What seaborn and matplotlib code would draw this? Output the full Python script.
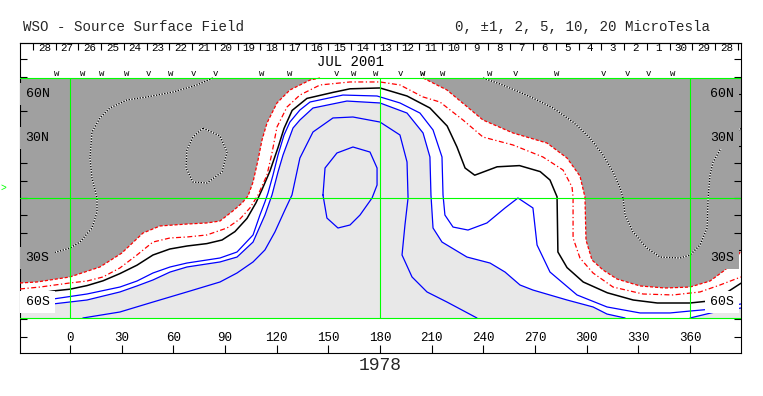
import numpy as np
import matplotlib.pyplot as plt
import seaborn as sns

# WSO source surface field, Carrington rotation 1978 (July 2001)
# all traces: Carrington longitude (deg) and sine latitude

# neutral line (0 microTesla)
neutral_lon = [-29, -9.9, 0, 9.9, 19.2, 29, 38.9, 48.2, 58, 68, 79.5, 88.3, 95.8, 102.8, 108, 111.5, 116,
               120.8, 124.3, 129, 137.6, 152.7, 162.6, 180, 195.7, 209, 219, 224.7, 229.4, 235, 248, 261,
               273, 278.7, 282.8, 283.3, 288.6, 298, 312, 327, 341, 360, 370, 381, 389.6]
neutral_sin = [-0.82, -0.775, -0.76, -0.73, -0.69, -0.63, -0.56, -0.475, -0.425, -0.40, -0.38, -0.35, -0.28,
               -0.17, -0.04, 0.07, 0.22, 0.42, 0.58, 0.73, 0.83, 0.88, 0.91, 0.917, 0.85, 0.75, 0.60, 0.425,
               0.25, 0.19, 0.26, 0.27, 0.22, 0.15, 0.01, -0.45, -0.58, -0.70, -0.79, -0.85, -0.875, -0.875,
               -0.86, -0.79, -0.71]

# negative contours (red)
neg1_lon = [-29, -17.4, 0, 9.9, 19.2, 29, 38.9, 48.2, 58.1, 67.9, 79.5, 91.2, 98.7, 104.5, 109.2, 114.4,
            117.3, 120.2, 126, 133.5, 145.2, 162.6, 180, 191.6, 205, 214.8, 228.2, 239.8, 257.2, 274.6,
            286.3, 291.5, 292.1, 292.1, 296.1, 303.7, 315.3, 332.7, 350.1, 365.8, 377.4, 389.6]
neg1_sin = [-0.758, -0.742, -0.708, -0.692, -0.658, -0.583, -0.475, -0.367, -0.333, -0.325, -0.308, -0.25,
            -0.175, -0.083, 0.025, 0.192, 0.375, 0.592, 0.758, 0.858, 0.942, 0.967, 0.967, 0.942, 0.842,
            0.80, 0.65, 0.508, 0.442, 0.342, 0.233, 0.092, 0.008, -0.333, -0.50, -0.625, -0.742, -0.80,
            -0.808, -0.783, -0.725, -0.658]

neg2a_lon = [-29, -19.2, 0, 17.4, 30, 42.4, 52.3, 67.9, 79.5, 87.1, 94.6, 99.9, 103.4, 106.3, 109.2,
             111.5, 114.4, 120.2, 127.7, 139.4, 145.2]
neg2a_sin = [-0.708, -0.70, -0.658, -0.575, -0.46, -0.292, -0.233, -0.217, -0.208, -0.192, -0.108, -0.042,
             0.017, 0.133, 0.317, 0.483, 0.625, 0.792, 0.90, 0.983, 1.0]
neg2b_lon = [205, 218.9, 239.8, 257.2, 277, 288.6, 296.1, 299, 299.6, 303.1, 309.5, 317.6, 331, 345.5,
             360, 371.6, 380.3, 385, 389.6]
neg2b_sin = [1.0, 0.90, 0.65, 0.542, 0.458, 0.333, 0.183, 0.008, -0.35, -0.517, -0.60, -0.675, -0.733,
             -0.75, -0.742, -0.692, -0.60, -0.533, -0.442]

# strong negative contours (dotted, inside the dark region)
neg5a_lon = [83, 73.7, 59.8, 44.7, 33.1, 23.2, 17.4, 12.8, 11.6, 12.8, 15.7, 15.7, 12.8, 5.8, 0, -9.9]
neg5a_sin = [1.0, 0.942, 0.883, 0.842, 0.817, 0.75, 0.667, 0.55, 0.333, 0.167, 0.0, -0.117, -0.25,
             -0.367, -0.417, -0.458]
neg5b_lon = [77.2, 87.1, 91.2, 88.3, 79.5, 71.4, 67.4, 67.9, 71.4, 77.2]
neg5b_sin = [0.583, 0.517, 0.383, 0.217, 0.125, 0.133, 0.25, 0.40, 0.508, 0.583]
neg5c_lon = [239.8, 249.7, 259.5, 268.8, 280.5, 292.1, 301.9, 309.5, 315.3, 319.4, 321.1, 322.3, 326.9,
             335, 342.6, 354.2, 360, 365.8, 369.9, 370.5, 371.6, 373.4, 377.4, 383.2, 389.6]
neg5c_sin = [1.0, 0.95, 0.892, 0.833, 0.75, 0.633, 0.50, 0.358, 0.217, 0.083, 0.0, -0.142, -0.283,
             -0.417, -0.492, -0.50, -0.475, -0.392, -0.25, 0.0, 0.192, 0.30, 0.40, 0.50, 0.583]

# positive contours (blue)
pos1_lon = [-29, -9.9, 9.9, 29, 38.9, 48.2, 58.1, 67.9, 87.1, 97, 106.3, 110.3, 113.2, 115, 117.9, 120.8,
            124.3, 127.7, 133.5, 139.4, 158.5, 178.3, 191.6, 203.2, 210.8, 216, 216.6, 217.7, 222.4,
            231.1, 242.1, 252.6, 260.1, 268.8, 271.2, 278.7, 294.4, 311.8, 331, 348.4, 360, 373.4, 389.6]
pos1_sin = [-0.858, -0.842, -0.80, -0.742, -0.692, -0.625, -0.575, -0.542, -0.50, -0.45, -0.308, -0.142,
            -0.033, 0.042, 0.192, 0.358, 0.525, 0.633, 0.733, 0.80, 0.858, 0.85, 0.792, 0.708, 0.567,
            0.342, 0.025, -0.142, -0.242, -0.267, -0.208, -0.083, 0.0, -0.083, -0.392, -0.617, -0.808,
            -0.908, -0.958, -0.958, -0.942, -0.925, -0.883]

pos2_lon = [-29, -9.9, 9.9, 29, 38.9, 48.2, 58.1, 67.9, 87.1, 97, 106.3, 113.2, 117.3, 120.8, 123.7,
            129.5, 133.5, 141.1, 160.8, 180, 195.7, 205, 209, 209.6, 210.8, 216, 230.5, 243.9, 252.6,
            261.3, 268.8, 288.6, 303.7, 311.8, 322.3]
pos2_sin = [-0.90, -0.883, -0.85, -0.783, -0.733, -0.683, -0.617, -0.575, -0.533, -0.492, -0.367, -0.142,
            0.025, 0.217, 0.358, 0.583, 0.65, 0.75, 0.808, 0.792, 0.708, 0.542, 0.342, 0.025, -0.25,
            -0.367, -0.492, -0.542, -0.617, -0.725, -0.767, -0.85, -0.908, -0.967, -1.0]
pos2_tail_lon = [360, 374.5, 389.6]
pos2_tail_sin = [-1.0, -0.95, -0.917]

pos5_lon = [7.5, 29, 48.2, 67.9, 87.1, 97, 106.3, 113.2, 119, 124.8, 128.9, 133.5, 141.1, 152.7, 164.3,
            180, 191.6, 195.7, 196.3, 194.5, 192.8, 198.6, 207.3, 218.9, 236.3]
pos5_sin = [-1.0, -0.95, -0.867, -0.783, -0.70, -0.625, -0.533, -0.433, -0.283, -0.10, 0.025, 0.333,
            0.55, 0.667, 0.675, 0.633, 0.525, 0.30, 0.0, -0.225, -0.475, -0.658, -0.783, -0.867, -1.0]

pos10_lon = [146.9, 148.1, 155, 164.3, 174.2, 178.3, 178.3, 175.4, 168.4, 162.6, 155.6, 149.2, 146.9]
pos10_sin = [0.025, 0.25, 0.375, 0.425, 0.383, 0.25, 0.108, 0.0, -0.142, -0.225, -0.25, -0.167, 0.025]

# markers along the top edge
mark_lon = [-7.5, 7.5, 18.6, 33.1, 45.3, 58.6, 71.4, 84.2, 111.5, 127.7, 154.5, 164.9, 177.7, 191.6,
            205.0, 216.6, 243.9, 258.4, 282.8, 309.5, 323.4, 335.6, 350.1]
mark_sym = list("wwwwvwvvwwvwwvWwwvwvvvw")

# dates of central meridian passage
day_labels = [28, 27, 26, 25, 24, 23, 22, 21, 20, 19, 18, 17, 16, 15, 14, 13, 12, 11, 10, 9, 8, 7, 6,
              5, 4, 3, 2, 1, 30, 29, 28]
first_day_lon = -21.5
deg_per_day = 13.2

lon_ticks = list(range(0, 361, 30))
lat_label_deg = [60, 30, -30, -60]
lat_label_txt = ["60N", "30N", "30S", "60S"]
earth_lat = 4.8
lon_min, lon_max = -29.0, 389.6

GRAY = "#a0a0a0"
LIGHT = "#e8e8e8"
GREEN = "#00ff00"
BLUE = "#0000ff"
RED = "#ff0000"

sns.set_theme(style="white")
plt.rcParams["font.family"] = ["Liberation Mono", "DejaVu Sans Mono"]
plt.rcParams["axes.edgecolor"] = "black"
plt.rcParams["axes.linewidth"] = 0.8

fig = plt.figure(figsize=(7.63, 3.96), dpi=100)
ax = fig.add_axes([20 / 763, 43 / 396, 721 / 763, 310 / 396])

# shading: dark = negative, white = weak positive, light = strong positive
ax.axhspan(-1, 1, color=GRAY, lw=0, zorder=0)
ax.fill(neg2a_lon + neg2b_lon + [lon_max, lon_min], neg2a_sin + neg2b_sin + [-1, -1],
        color="white", lw=0, zorder=1)
ax.fill(pos2_lon + [lon_min], pos2_sin + [-1], color=LIGHT, lw=0, zorder=2)
ax.fill(pos2_tail_lon + [lon_max], pos2_tail_sin + [-1], color=LIGHT, lw=0, zorder=2)

# contours
for lon, s in [(pos1_lon, pos1_sin), (pos2_lon, pos2_sin), (pos2_tail_lon, pos2_tail_sin),
               (pos5_lon, pos5_sin), (pos10_lon, pos10_sin)]:
    sns.lineplot(x=lon, y=s, sort=False, estimator=None, color=BLUE, lw=0.9, ax=ax, zorder=4)
sns.lineplot(x=neutral_lon, y=neutral_sin, sort=False, estimator=None, color="black", lw=1.1,
             ax=ax, zorder=4)
ax.plot(neg1_lon, neg1_sin, color=RED, lw=0.9, ls=(0, (4, 2, 1, 2)), zorder=4)
ax.plot(neg2a_lon, neg2a_sin, color=RED, lw=0.9, ls=(0, (2.5, 1.5)), zorder=4)
ax.plot(neg2b_lon, neg2b_sin, color=RED, lw=0.9, ls=(0, (2.5, 1.5)), zorder=4)
for lon, s in [(neg5a_lon, neg5a_sin), (neg5b_lon, neg5b_sin), (neg5c_lon, neg5c_sin)]:
    ax.plot(lon, s, color="white", lw=1.0, zorder=4)
    ax.plot(lon, s, color="black", lw=1.0, ls=(0, (1, 1)), zorder=4)

# grid
for s in [-1, 0, 1]:
    ax.axhline(s, color=GREEN, lw=0.8, zorder=5)
ax.vlines([0, 180, 360], -1, 1, color=GREEN, lw=0.8, zorder=5)

ax.set_xlim(lon_min, lon_max)
ax.set_ylim(-1.2917, 1.2917)
ax.set_xlabel("")
ax.set_ylabel("")

ax.set_xticks(lon_ticks)
ax.tick_params(axis="x", direction="in", length=6, width=0.8, pad=-15, labelsize=9,
               colors="black", bottom=True, top=False)
ax.set_yticks(np.sin(np.radians(60)) / 6 * np.arange(-8, 9))
ax.tick_params(axis="y", direction="in", length=5, width=0.8, left=True, right=True,
               labelleft=False, labelright=False, colors="black")

for lat, txt in zip(lat_label_deg, lat_label_txt):
    s = np.sin(np.radians(lat))
    bg = "white" if lat == -60 else GRAY
    for xf, off, ha in [(0, 4, "left"), (1, -5, "right")]:
        ax.annotate(txt, xy=(xf, s), xycoords=("axes fraction", "data"), xytext=(off, 0),
                    textcoords="offset points", ha=ha, va="center", fontsize=9.5, color="black",
                    bbox=dict(boxstyle="square,pad=0.4", fc=bg, ec="none"), zorder=6)

ax.annotate(">", xy=(0, np.sin(np.radians(earth_lat))), xycoords=("axes fraction", "data"),
            xytext=(-12, 0), textcoords="offset points", ha="center", va="center",
            fontsize=7, color=GREEN, annotation_clip=False)

for lon, sym in zip(mark_lon, mark_sym):
    ax.text(lon, 1.04, sym.lower(), ha="center", va="center", fontsize=6.5,
            fontweight="bold" if sym == "W" else "normal", color="black")

ax.text(163, 1.133, "JUL 2001", ha="center", va="center", fontsize=10, color="black")

# day-of-month scale along the top
sec = ax.secondary_xaxis("top", functions=(lambda x: (x - first_day_lon) / deg_per_day,
                                           lambda d: first_day_lon + d * deg_per_day))
sec.set_xticks(np.arange(len(day_labels) + 1), labels=[""] * (len(day_labels) + 1))
sec.set_xticks(np.arange(len(day_labels)) + 0.5, labels=[str(d) for d in day_labels], minor=True)
sec.tick_params(which="major", direction="in", length=5, width=0.8, colors="black")
sec.tick_params(which="minor", length=0, pad=-7.5, labelsize=7.8, colors="black")

fig.text(23 / 763, 1 - 27 / 396, "WSO - Source Surface Field", ha="left", va="center", fontsize=10.2)
fig.text(710 / 763, 1 - 27 / 396, "0, \u00b11, 2, 5, 10, 20 MicroTesla", ha="right", va="center",
         fontsize=10.2)
fig.text(380 / 763, 1 - 366 / 396, "1978", ha="center", va="center", fontsize=13)

fig.savefig("out.png", dpi=100)
